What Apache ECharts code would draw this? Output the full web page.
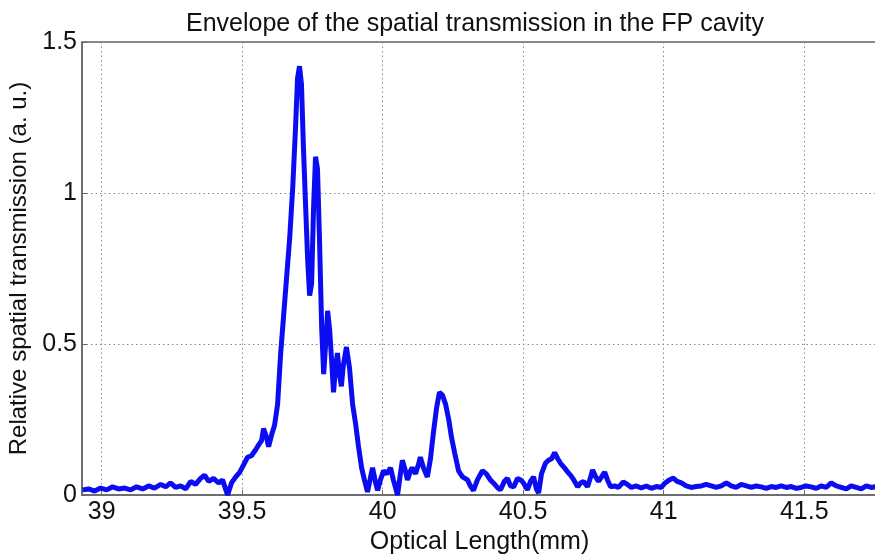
<!DOCTYPE html>
<html>
<head>
<meta charset="utf-8">
<script src="https://cdn.jsdelivr.net/npm/echarts@6/dist/echarts.min.js"></script>
<style>html,body{margin:0;padding:0;background:#fff;overflow:hidden}#c{width:875px;height:556px}</style>
</head>
<body>
<div id="c"></div>
<script>
const titleText = 'Envelope of the spatial transmission in the FP cavity';
const xName = 'Optical Length(mm)';
const yName = 'Relative spatial transmission (a. u.)';
const xTickLabels = [39, 39.5, 40, 40.5, 41, 41.5];
const yTickLabels = [0, 0.5, 1, 1.5];

const lengthMm = [
38.932,38.954,38.975,38.996,39.018,39.039,39.060,39.082,39.103,39.124,39.146,39.167,39.188,39.210,39.228,39.245,39.263,39.281,39.299,39.317,
39.334,39.352,39.366,39.381,39.398,39.416,39.430,39.448,39.462,39.477,39.491,39.505,39.519,39.533,39.548,39.558,39.569,39.576,39.587,39.594,
39.605,39.615,39.626,39.637,39.648,39.658,39.669,39.680,39.690,39.697,39.704,39.711,39.718,39.726,39.733,39.740,39.747,39.754,39.761,39.768,
39.775,39.783,39.790,39.797,39.804,39.811,39.818,39.825,39.832,39.839,39.846,39.853,39.860,39.871,39.882,39.893,39.903,39.914,39.925,39.935,
39.946,39.957,39.964,39.975,39.982,39.992,40.003,40.014,40.028,40.038,40.053,40.063,40.070,40.081,40.088,40.099,40.105,40.117,40.127,40.134,
40.145,40.159,40.170,40.181,40.192,40.202,40.213,40.224,40.235,40.245,40.256,40.270,40.284,40.302,40.312,40.323,40.337,40.355,40.369,40.383,
40.394,40.408,40.419,40.433,40.444,40.455,40.466,40.480,40.491,40.501,40.515,40.526,40.537,40.547,40.555,40.565,40.579,40.590,40.601,40.612,
40.623,40.633,40.647,40.658,40.669,40.680,40.694,40.704,40.715,40.729,40.740,40.747,40.758,40.768,40.779,40.790,40.800,40.811,40.825,40.839,
40.856,40.871,40.885,40.903,40.920,40.938,40.956,40.974,40.991,41.005,41.020,41.034,41.048,41.063,41.080,41.098,41.116,41.134,41.151,41.169,
41.187,41.205,41.223,41.240,41.258,41.276,41.294,41.312,41.329,41.347,41.365,41.383,41.400,41.418,41.436,41.454,41.472,41.489,41.507,41.525,
41.543,41.560,41.578,41.596,41.614,41.632,41.650,41.667,41.685,41.703,41.721,41.738,41.759
];
const transmission = [
0.017,0.020,0.013,0.023,0.017,0.027,0.020,0.023,0.017,0.027,0.020,0.030,0.023,0.035,0.027,0.040,0.025,0.030,0.020,0.045,
0.035,0.055,0.066,0.045,0.055,0.040,0.050,0.000,0.040,0.060,0.075,0.100,0.125,0.130,0.150,0.165,0.180,0.220,0.190,0.160,
0.200,0.230,0.300,0.470,0.600,0.720,0.850,1.020,1.220,1.380,1.420,1.360,1.150,0.950,0.780,0.660,0.700,0.950,1.120,1.080,
0.850,0.550,0.400,0.500,0.610,0.550,0.450,0.340,0.420,0.470,0.400,0.360,0.430,0.490,0.420,0.300,0.240,0.160,0.090,0.050,
0.010,0.060,0.090,0.040,0.015,0.050,0.080,0.070,0.090,0.050,0.000,0.070,0.115,0.080,0.050,0.080,0.090,0.070,0.100,0.125,
0.090,0.060,0.120,0.210,0.290,0.340,0.330,0.300,0.250,0.190,0.140,0.080,0.060,0.050,0.030,0.015,0.050,0.080,0.070,0.050,
0.040,0.025,0.017,0.045,0.055,0.030,0.027,0.055,0.050,0.040,0.017,0.045,0.060,0.020,0.007,0.070,0.105,0.115,0.120,0.140,
0.120,0.105,0.090,0.076,0.065,0.050,0.027,0.040,0.045,0.027,0.060,0.083,0.060,0.045,0.060,0.076,0.050,0.027,0.030,0.025,
0.043,0.035,0.025,0.030,0.023,0.030,0.022,0.028,0.025,0.040,0.050,0.056,0.045,0.040,0.030,0.025,0.028,0.030,0.035,0.030,
0.025,0.030,0.040,0.030,0.025,0.035,0.030,0.025,0.030,0.027,0.022,0.028,0.025,0.030,0.025,0.028,0.022,0.025,0.030,0.027,
0.022,0.030,0.025,0.040,0.030,0.025,0.020,0.030,0.025,0.020,0.030,0.025,0.028
];

const seriesData = lengthMm.map((x, i) => [x, transmission[i]]);
const FONT = '"Liberation Sans", Arial, sans-serif';

const chart = echarts.init(document.getElementById('c'), null, {renderer: 'canvas'});
chart.setOption({
  animation: false,
  backgroundColor: '#ffffff',
  title: {
    text: titleText,
    left: 470, top: 7, textAlign: 'center',
    textStyle: {fontFamily: FONT, fontSize: 25, fontWeight: 'normal', color: '#111'}
  },
  grid: {
    left: 82, top: 42, right: -2, bottom: 61,
    outerBoundsMode: 'none', containLabel: false,
    show: true, borderColor: '#666', borderWidth: 1.5, backgroundColor: 'transparent'
  },
  xAxis: {
    type: 'value', min: 38.93, max: 41.759,
    name: xName, nameLocation: 'middle', nameGap: 33,
    nameTextStyle: {fontFamily: FONT, fontSize: 25, color: '#111'},
    axisLine: {show: true, lineStyle: {color: '#666', width: 1.5}},
    axisTick: {show: true, inside: true, length: 5, customValues: xTickLabels, lineStyle: {color: '#666'}},
    axisLabel: {
      fontFamily: FONT, fontSize: 25, color: '#111', margin: 5,
      customValues: xTickLabels
    },
    splitLine: {show: true, lineStyle: {color: '#888', type: [1.5, 3], width: 1}}
  },
  yAxis: {
    type: 'value', min: 0, max: 1.5, interval: 0.5,
    name: yName, nameLocation: 'middle', nameGap: 49,
    nameTextStyle: {fontFamily: FONT, fontSize: 24, color: '#111'},
    axisLine: {show: true, lineStyle: {color: '#666', width: 1.5}},
    axisTick: {show: true, inside: true, length: 5, lineStyle: {color: '#666'}},
    axisLabel: {
      fontFamily: FONT, fontSize: 25, color: '#111', margin: 5,
      formatter: v => (yTickLabels.some(t => Math.abs(t - v) < 1e-6) ? String(v) : '')
    },
    splitLine: {show: true, lineStyle: {color: '#888', type: [1.5, 3], width: 1}}
  },
  series: [{
    type: 'line',
    data: seriesData,
    showSymbol: false,
    smooth: false,
    lineStyle: {color: '#0c0cf2', width: 5},
    clip: true
  }]
});
</script>
</body>
</html>
